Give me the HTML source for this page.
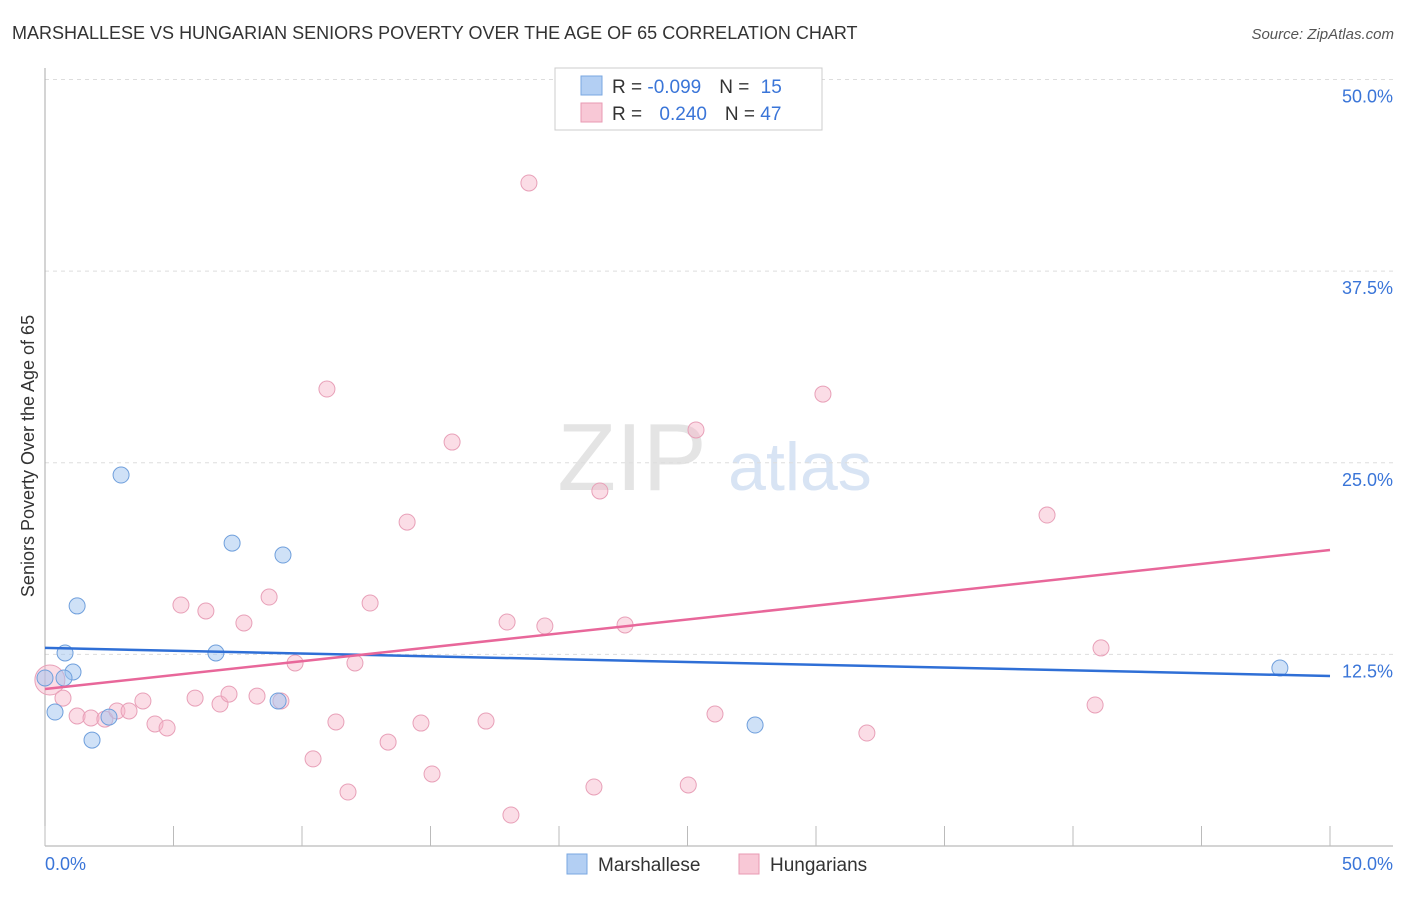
<!DOCTYPE html>
<html><head><meta charset="utf-8"><style>
body{margin:0;background:#fff;font-family:"Liberation Sans",sans-serif}
svg text{font-family:"Liberation Sans",sans-serif}
</style></head><body>
<svg id="c" width="1406" height="892">
<text x="12" y="39" font-size="18" fill="#333">MARSHALLESE VS HUNGARIAN SENIORS POVERTY OVER THE AGE OF 65 CORRELATION CHART</text>
<text x="1394" y="39" font-size="15" fill="#555" font-style="italic" text-anchor="end">Source: ZipAtlas.com</text>
<g>
<text x="632" y="490" font-size="96" font-family="Liberation Serif" fill="#e4e4e4" text-anchor="middle">ZIP</text>
<text x="800" y="490" font-size="68" fill="#d8e4f4" text-anchor="middle">atlas</text>
</g>
<g id="grid"></g>
<g id="axes"></g>
<g id="pts"></g>
<g id="lines"></g>
<text transform="translate(34,456) rotate(-90)" font-size="18" fill="#333" text-anchor="middle">Seniors Poverty Over the Age of 65</text>
<g>
<rect x="555" y="68" width="267" height="62" fill="#fff" stroke="#ccc"/>
<rect x="581" y="76" width="21" height="19" fill="#b3cff3" stroke="#7aa7e0"/>
<rect x="581" y="103" width="21" height="19" fill="#f8c8d6" stroke="#e89ab3"/>
<text x="612" y="93" font-size="19" fill="#333">R = <tspan fill="#3a75d8">-0.099</tspan><tspan dx="18">N = </tspan><tspan fill="#3a75d8" dx="6">15</tspan></text>
<text x="612" y="120" font-size="19" fill="#333">R = <tspan fill="#3a75d8" dx="12">0.240</tspan><tspan dx="18">N = </tspan><tspan fill="#3a75d8">47</tspan></text>
</g>
<g>
<rect x="567" y="854" width="20" height="20" fill="#b3cff3" stroke="#7aa7e0"/>
<text x="598" y="871" font-size="19" fill="#333">Marshallese</text>
<rect x="739" y="854" width="20" height="20" fill="#f8c8d6" stroke="#e89ab3"/>
<text x="770" y="871" font-size="19" fill="#333">Hungarians</text>
</g>
</svg>
<script>
const yTicks=[12.5,25,37.5,50];
const yTickLabels=["12.5%","25.0%","37.5%","50.0%"];
const xTickLabels=["0.0%","50.0%"];
const blueX=[0,0.39,0.78,1.09,0.74,1.25,1.83,2.49,2.96,6.65,7.28,9.07,9.26,27.63,48.05];
const blueY=[10.96,8.74,12.59,11.35,10.96,15.66,6.91,8.41,24.2,12.59,19.76,9.46,18.98,7.89,11.61];
const pinkX=[0.19,0.7,1.25,1.79,2.33,2.8,3.27,3.81,4.28,4.75,5.29,5.84,6.26,6.81,7.16,7.74,8.25,8.72,9.18,9.73,10.43,10.97,11.32,11.79,12.06,12.65,13.35,14.09,14.63,15.06,15.84,17.16,17.98,18.13,18.83,19.45,21.36,21.59,22.57,25.03,25.33,26.07,30.27,31.98,38.99,40.86,41.09];
const pinkY=[10.83,9.65,8.48,8.35,8.28,8.81,8.81,9.46,7.96,7.7,15.72,9.65,15.33,9.26,9.91,14.55,9.78,16.24,9.46,11.94,5.68,29.81,8.09,3.52,11.94,15.85,6.78,21.13,8.02,4.7,26.35,8.15,14.61,2.02,43.25,14.35,3.85,23.16,14.42,3.98,27.14,8.61,29.48,7.37,21.59,9.2,12.92];
const blueTrend=[12.92,11.09];
const pinkTrend=[10.24,19.31];
const NS="http://www.w3.org/2000/svg";
const X=v=>45+v/50*1285, Y=v=>846-v/50*766.5;
function mk(p,t,a){const e=document.createElementNS(NS,t);for(const k in a)e.setAttribute(k,a[k]);document.getElementById(p).appendChild(e);return e;}
yTicks.forEach((t,i)=>{
 const g=mk('grid','line',{x1:45,x2:1393,y1:Y(t),y2:Y(t),stroke:'#ddd','stroke-dasharray':'4,4'});
 
 
 const l=mk('axes','text',{x:1393,y:Y(t)+23,'font-size':18,fill:'#3a75d8','text-anchor':'end'});
 l.textContent=yTickLabels[i];
 
 
});
const al=mk('axes','line',{x1:45,x2:45,y1:68,y2:846,stroke:'#aaa'});


const ab=mk('axes','line',{x1:45,x2:1393,y1:846,y2:846,stroke:'#aaa'});


for(let i=0;i<=10;i++){const t=mk('axes','line',{x1:X(i*5),x2:X(i*5),y1:826,y2:846,stroke:'#bbb'});
 
 }
const x0=mk('axes','text',{x:45,y:870,'font-size':18,fill:'#3a75d8'});x0.textContent=xTickLabels[0];


const x1=mk('axes','text',{x:1393,y:870,'font-size':18,fill:'#3a75d8','text-anchor':'end'});x1.textContent=xTickLabels[1];


pinkX.forEach((v,i)=>{const c=mk('pts','circle',{cx:X(v),cy:Y(pinkY[i]),r:i==0?15:8,fill:'rgba(246,180,200,0.45)',stroke:'#e8a0b8','stroke-width':1});
 
 });
blueX.forEach((v,i)=>{const c=mk('pts','circle',{cx:X(v),cy:Y(blueY[i]),r:8,fill:'rgba(160,196,240,0.5)',stroke:'#6f9fdc','stroke-width':1});
 
 });
const bl=mk('lines','line',{x1:X(0),x2:X(50),y1:Y(blueTrend[0]),y2:Y(blueTrend[1]),stroke:'#2f6fd6','stroke-width':2.5});


const pl=mk('lines','line',{x1:X(0),x2:X(50),y1:Y(pinkTrend[0]),y2:Y(pinkTrend[1]),stroke:'#e8679a','stroke-width':2.5});


</script>
</body></html>
